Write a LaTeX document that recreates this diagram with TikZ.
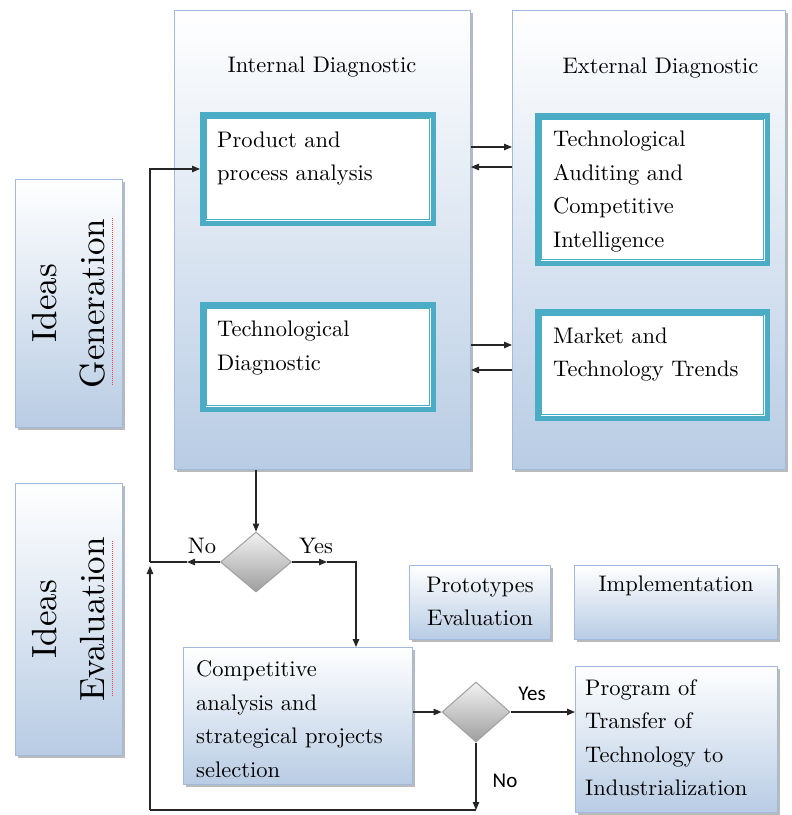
\documentclass[tikz,border=0pt]{standalone}
\usepackage{fontspec}
\newfontfamily\sanscal{Carlito}
\newfontfamily\lmten{lmroman10-regular}[Extension=.otf]
\usetikzlibrary{arrows.meta,shapes.geometric,shadows}
\definecolor{boxblue}{RGB}{184,204,228}
\definecolor{bordblue}{RGB}{160,186,220}
\definecolor{tealc}{RGB}{75,172,198}
\definecolor{diagray}{RGB}{160,160,160}
\newcommand\firststrut{\rule{0pt}{20pt}}
\tikzset{
  shad/.style={drop shadow={shadow xshift=2pt,shadow yshift=-2.5pt,fill=black!45,opacity=.6}},
  bigbox/.style={draw=bordblue,line width=1pt,top color=white,bottom color=boxblue,shad,inner sep=0},
  tealbox/.style={draw=tealc,line width=5.5pt,fill=white,inner sep=0},
  decision/.style={diamond,draw=diagray,line width=1pt,top color=white!95!black,bottom color=black!38,inner sep=0,aspect=1.15},
  conn/.style={line width=1.1pt,draw=black!85},
  tip/.style={-{Triangle[length=8pt,width=6.5pt]}},
  txt/.style={inner sep=0,font=\lmten\fontsize{22.5}{33.5}\selectfont,align=left,anchor=north west},
  ctxt/.style={inner sep=0,font=\lmten\fontsize{22.5}{33.5}\selectfont,align=center},
  vtxt/.style={inner sep=0,font=\lmten\fontsize{35}{48}\selectfont,align=center,rotate=90},
  lbl/.style={inner sep=0,font=\lmten\fontsize{22.5}{28}\selectfont,anchor=base},
  slbl/.style={inner sep=0,font=\sanscal\fontsize{21}{26}\selectfont,anchor=base},
  squig/.style={red!75,line width=1pt,dash pattern=on 1pt off 1pt}
}
\begin{document}
\begin{tikzpicture}[x=1pt,y=-1pt]
\useasboundingbox (0,0) rectangle (792,815);
% left category boxes
\node[bigbox,minimum width=107pt,minimum height=248pt] (ig) at (69,303.5) {};
\node[vtxt] (igt) at (ig.center) {Ideas\\Generation};
\draw[squig] (112,218) -- (112,386);
\node[bigbox,minimum width=107pt,minimum height=272pt] (ie) at (69,619.5) {};
\node[vtxt] (iet) at (ie.center) {Ideas\\Evaluation};
\draw[squig] (112,541) -- (112,697);
% big diagnostic boxes
\node[bigbox,minimum width=296pt,minimum height=459pt] (int) at (322.5,240) {};
\node[lbl] (intt) at (322,72) {Internal Diagnostic};
\node[bigbox,minimum width=273pt,minimum height=459pt] (ext) at (649,240) {};
\node[lbl] (extt) at (660.5,73) {External Diagnostic};
% teal boxes
\node[tealbox,minimum width=230.5pt,minimum height=108.5pt] (pa) at (318,169) {};
\draw[tealc,line width=.9pt] ([shift={(6.5,6.5)}]pa.north west) rectangle ([shift={(-6.5,-6.5)}]pa.south east);
\node[txt] (pat) at (217,127) {\firststrut Product and\\process analysis};
\node[tealbox,minimum width=230.5pt,minimum height=104.5pt] (td) at (318,357) {};
\draw[tealc,line width=.9pt] ([shift={(6.5,6.5)}]td.north west) rectangle ([shift={(-6.5,-6.5)}]td.south east);
\node[txt] (tdt) at (217,316.7) {\firststrut Technological\\Diagnostic};
\node[tealbox,minimum width=229.5pt,minimum height=147.5pt] (ta) at (652.5,189.5) {};
\draw[tealc,line width=.9pt] ([shift={(6.5,6.5)}]ta.north west) rectangle ([shift={(-6.5,-6.5)}]ta.south east);
\node[txt] (tat) at (553,126.7) {\firststrut Technological\\Auditing and\\Competitive\\Intelligence};
\node[tealbox,minimum width=229.5pt,minimum height=106.5pt] (mt) at (652.5,365) {};
\draw[tealc,line width=.9pt] ([shift={(6.5,6.5)}]mt.north west) rectangle ([shift={(-6.5,-6.5)}]mt.south east);
\node[txt] (mtt) at (553,323) {\firststrut Market and\\Technology Trends};
% lower boxes
\node[bigbox,minimum width=141pt,minimum height=74pt] (pe) at (480,602.5) {};
\node[ctxt,anchor=north] (pet) at (480,572) {\firststrut Prototypes\\Evaluation};
\node[bigbox,minimum width=203pt,minimum height=74pt] (im) at (676,602.5) {};
\node[lbl] (imt) at (676,591) {Implementation};
\node[bigbox,minimum width=229pt,minimum height=137pt] (ca) at (298,716) {};
\node[txt] (cat) at (196,656.7) {\firststrut Competitive\\analysis and\\strategical projects\\selection};
\node[bigbox,minimum width=202pt,minimum height=146pt] (pg) at (676.5,739.5) {};
\node[txt] (pgt) at (585,675) {\firststrut Program of\\Transfer of\\Technology to\\Industrialization};
% decisions
\node[decision,minimum width=71pt,minimum height=60pt] (d1) at (256,562) {};
\node[decision,minimum width=68pt,minimum height=60pt] (d2) at (476,712) {};
% helper coordinates
\coordinate (r1) at (0,147);
\coordinate (l1) at (0,167);
\coordinate (r2) at (0,345);
\coordinate (l2) at (0,370);
\coordinate (nomid) at (187,562);
\coordinate (jl) at (150,562);
\coordinate (yesmid) at (327,562);
\coordinate (botr) at (476,810);
\coordinate (botl) at (150,810);
\coordinate (upmid) at (150,566);
% connectors between diagnostics
\draw[conn,tip] (int.east |- r1) -- (ext.west |- r1);
\draw[conn,tip] (ext.west |- l1) -- (int.east |- l1);
\draw[conn,tip] (int.east |- r2) -- (ext.west |- r2);
\draw[conn,tip] (ext.west |- l2) -- (int.east |- l2);
% flow
\draw[conn,tip] (int.south -| d1.north) -- (d1.north);
\draw[conn,tip] (d1.west) -- (nomid);
\draw[conn] (nomid) -- (jl);
\draw[conn,tip] (jl) |- (pa.west);
\draw[conn,tip] (d1.east) -- (yesmid);
\draw[conn,tip] (yesmid) -| ([xshift=58pt]ca.north);
\draw[conn,tip] (ca.east |- d2) -- (d2.west);
\draw[conn,tip] (d2.east) -- (pg.west |- d2);
\draw[conn,tip] (d2.south) -- (botr);
\draw[conn] (botr) -- (botl);
\draw[conn,tip] (botl) -- (upmid);
% labels
\node[lbl] (no1) at (202,553) {No};
\node[lbl] (yes1) at (316,553) {Yes};
\node[slbl] (yes2) at (532,700) {Yes};
\node[slbl] (no2) at (505,787) {No};
\end{tikzpicture}
\end{document}
